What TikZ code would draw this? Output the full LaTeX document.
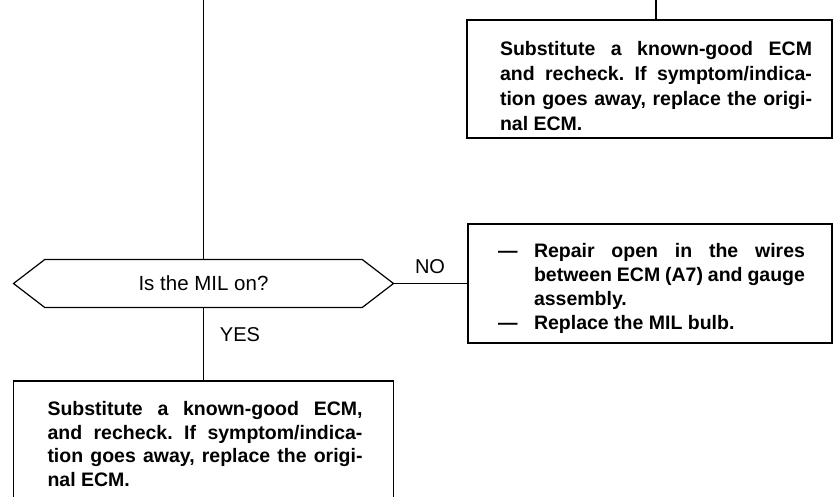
\documentclass[tikz,border=0pt]{standalone}
\usepackage{fontspec}
\setmainfont{Liberation Sans}
\usetikzlibrary{shapes.symbols}

\frenchspacing
\newcommand{\dashitem}{\hangindent=36pt\hangafter=1\makebox[36pt][l]{\textemdash}}
% Absatz im Kasten: Breite, Abstand oben, links, rechts, Text
\newcommand{\boxpar}[5]{\parbox[c]{#1}{\vspace*{#2}\tolerance=10000
  \leftskip=#3\rightskip=#4\relax #5}}

\begin{document}
\begin{tikzpicture}[x=1pt,y=-1pt,line width=1.2pt,
rect1/.style={rectangle,draw=black,line width=1.2pt,inner sep=0pt,
  font=\bfseries\fontsize{19.5}{25}\selectfont},
hexa/.style={signal,signal to=east and west,signal pointer angle=75,draw=black,
  line width=1.2pt,inner sep=0pt,minimum width=380pt,minimum height=48pt,
  font=\fontsize{20.5}{24}\selectfont},
lbl/.style={inner sep=0pt,font=\fontsize{20}{24}\selectfont},
]
\clip (0,0) rectangle (837,496);

% Entscheidung MIL
\node[hexa] (milq) at (203.5,283.5) {Is the MIL on?};
\node[lbl] (no) at (430,267) {NO};
\node[lbl] (yes) at (240,335) {YES};

% Kaesten
\node[rect1,minimum width=365pt,minimum height=118pt] (topbox) at (649.5,79)
  {\boxpar{365pt}{14pt}{33pt}{20pt}{Substitute a known-good ECM\linebreak
   and recheck. If symptom/indica-\linebreak
   tion goes away, replace the origi-\linebreak nal ECM.}};
\node[rect1,minimum width=364pt,minimum height=119pt,
  font=\bfseries\fontsize{19.5}{24}\selectfont] (midbox) at (650,283.5)
  {\boxpar{364pt}{10pt}{30pt}{27pt}{\dashitem Repair open in the wires\linebreak
   between ECM (A7) and gauge\linebreak assembly.\par
   \dashitem Replace the MIL bulb.}};
\node[rect1,minimum width=380pt,minimum height=126pt,
  font=\bfseries\fontsize{19.5}{23.5}\selectfont] (lowbox) at (203.5,444)
  {\boxpar{380pt}{0pt}{34pt}{31pt}{Substitute a known-good ECM,\linebreak
   and recheck. If symptom/indica-\linebreak
   tion goes away, replace the origi-\linebreak nal ECM.}};

% Verbindungen
\coordinate (topA) at (203.5,0);
\coordinate (topB) at (656,0);
\draw (topA) -- (milq.north);
\draw (topB) -- (topB |- topbox.north);
\draw (milq.east) -- (midbox.west);
\draw (milq.south) -- (lowbox.north);
\end{tikzpicture}
\end{document}
